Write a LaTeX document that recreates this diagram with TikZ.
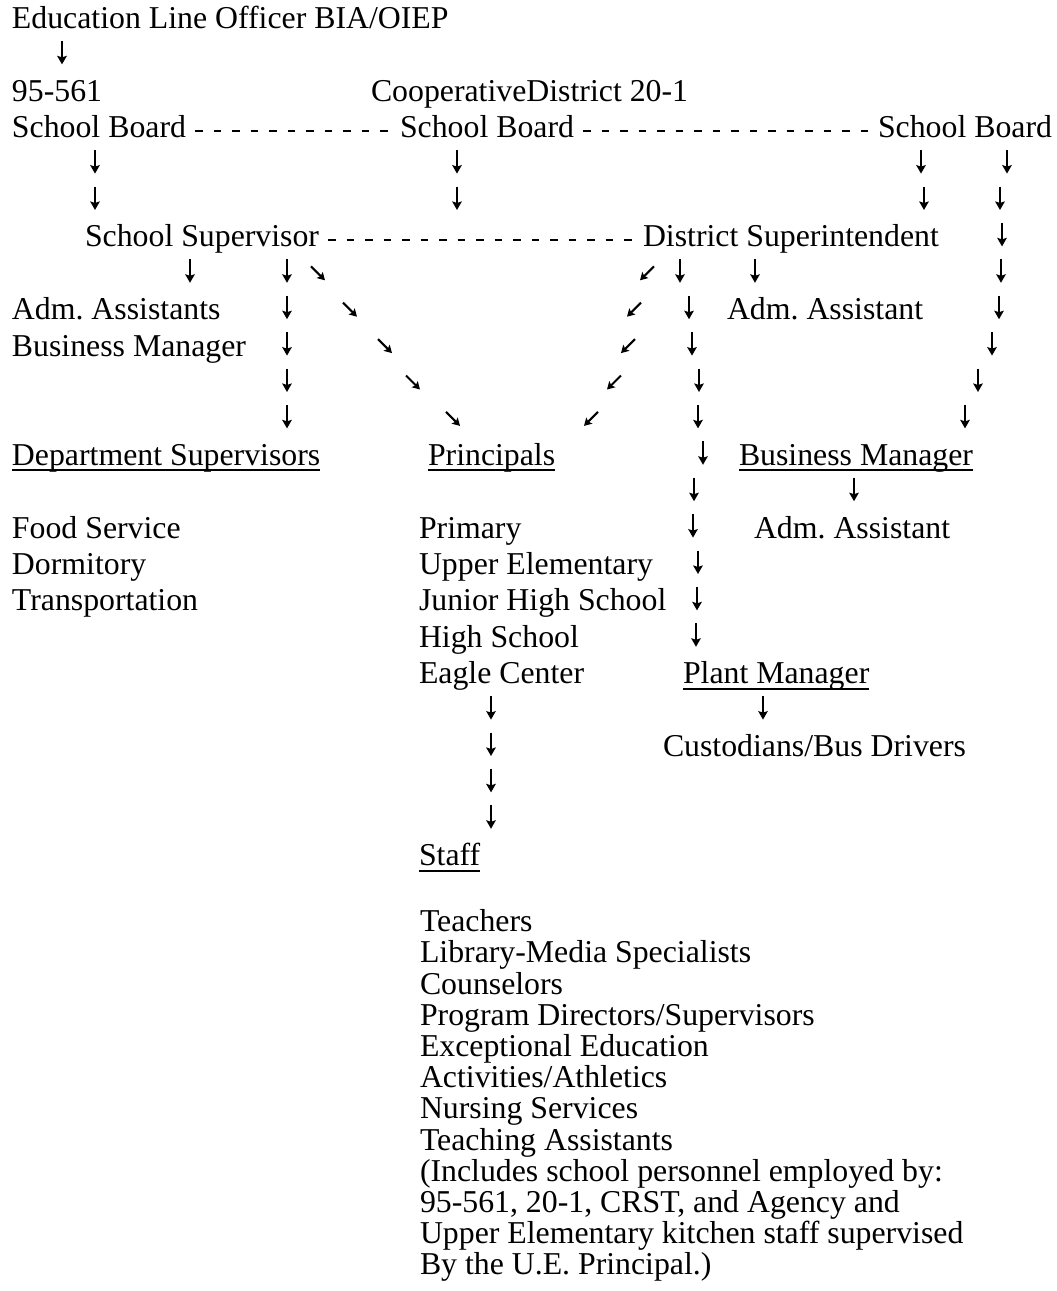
\documentclass[tikz,border=0pt]{standalone}
\usepackage{fontspec}
\setmainfont{Liberation Serif}
\usetikzlibrary{arrows.meta}
\tikzset{
  txt/.style={inner sep=0pt, outer sep=0pt, anchor=base west, font=\fontsize{31.8}{36}\selectfont\frenchspacing},
  arr/.style={line width=2.1pt, -{Stealth[length=8.5pt,width=9.5pt,inset=1.5pt]}},
  darr/.style={line width=2.1pt, -{Stealth[length=7.5pt,width=8.5pt,inset=1.5pt]}},
  dashline/.style={line width=1.9pt, dash pattern=on 7.8pt off 10.7pt},
  ul/.style={line width=1.8pt}
}
% down arrow: centre x, row
\newcommand\dA[2]{\draw[arr] (#1,{28.5+36.4*#2-24}) -- (#1,{28.5+36.4*#2-0.5});}
% down-right arrow
\newcommand\dR[2]{\draw[darr] ({#1-7},{28.5+36.4*#2-17}) -- ({#1+7},{28.5+36.4*#2-3});}
% down-left arrow
\newcommand\dL[2]{\draw[darr] ({#1+7},{28.5+36.4*#2-17}) -- ({#1-7},{28.5+36.4*#2-3});}
\newcommand\ulin[1]{\draw[ul] ([yshift=-5pt]#1.base west) -- ([yshift=-5pt]#1.base east);}
\begin{document}
\begin{tikzpicture}[x=1pt,y=-1pt]
\useasboundingbox (0,0) rectangle (1057,1291);
% ---- text ----
\node[txt] (elo) at (12,{28.5+36.4*0}) {Education Line Officer BIA/OIEP};
\node[txt] (n95) at (12,{28.5+36.4*2}) {95-561};
\node[txt] (coop) at (371,{28.5+36.4*2}) {CooperativeDistrict 20-1};
\node[txt] (sb1) at (12,{28.5+36.4*3}) {School Board};
\node[txt] (sb2) at (400,{28.5+36.4*3}) {School Board};
\node[txt] (sb3) at (878,{28.5+36.4*3}) {School Board};
\node[txt] (ssup) at (85,{28.5+36.4*6}) {School Supervisor};
\node[txt] (dsup) at (643,{28.5+36.4*6}) {District Superintendent};
\node[txt] (aas) at (12,{28.5+36.4*8}) {Adm. Assistants};
\node[txt] (aa1) at (727,{28.5+36.4*8}) {Adm. Assistant};
\node[txt] (bm1) at (12,{28.5+36.4*9}) {Business Manager};
\node[txt] (dept) at (12,{28.5+36.4*12}) {Department Supervisors};
\node[txt] (prin) at (428,{28.5+36.4*12}) {Principals};
\node[txt] (bm2) at (739,{28.5+36.4*12}) {Business Manager};
\node[txt] (food) at (12,{28.5+36.4*14}) {Food Service};
\node[txt] (prim) at (419,{28.5+36.4*14}) {Primary};
\node[txt] (aa2) at (754,{28.5+36.4*14}) {Adm. Assistant};
\node[txt] (dorm) at (12,{28.5+36.4*15}) {Dormitory};
\node[txt] (uel) at (419,{28.5+36.4*15}) {Upper Elementary};
\node[txt] (trans) at (12,{28.5+36.4*16}) {Transportation};
\node[txt] (jhs) at (419,{28.5+36.4*16}) {Junior High School};
\node[txt] (hs) at (419,{28.5+36.4*17}) {High School};
\node[txt] (eagle) at (419,{28.5+36.4*18}) {Eagle Center};
\node[txt] (plant) at (683,{28.5+36.4*18}) {Plant Manager};
\node[txt] (cust) at (663,{28.5+36.4*20}) {Custodians/Bus Drivers};
\node[txt] (staff) at (419,{28.5+36.4*23}) {Staff};
\node[txt] (st0) at (420,{931.7+31.2*0}) {Teachers};
\node[txt] (st1) at (420,{931.7+31.2*1}) {Library-Media Specialists};
\node[txt] (st2) at (420,{931.7+31.2*2}) {Counselors};
\node[txt] (st3) at (420,{931.7+31.2*3}) {Program Directors/Supervisors};
\node[txt] (st4) at (420,{931.7+31.2*4}) {Exceptional Education};
\node[txt] (st5) at (420,{931.7+31.2*5}) {Activities/Athletics};
\node[txt] (st6) at (420,{931.7+31.2*6}) {Nursing Services};
\node[txt] (st7) at (420,{931.7+31.2*7}) {Teaching Assistants};
\node[txt] (st8) at (420,{931.7+31.2*8}) {(Includes school personnel employed by:};
\node[txt] (st9) at (420,{931.7+31.2*9}) {95-561, 20-1, CRST, and Agency and};
\node[txt] (st10) at (420,{931.7+31.2*10}) {Upper Elementary kitchen staff supervised};
\node[txt] (st11) at (420,{931.7+31.2*11}) {By the U.E. Principal.)};
% ---- underlines ----
\ulin{dept}\ulin{prin}\ulin{bm2}\ulin{plant}\ulin{staff}
% ---- dashed links ----
\draw[dashline] ([xshift=9pt,yshift=7pt]sb1.base east) -- ([xshift=-8pt,yshift=7pt]sb2.base west);
\draw[dashline] ([xshift=9pt,yshift=7pt]sb2.base east) -- ([xshift=-8pt,yshift=7pt]sb3.base west);
\draw[dashline] ([xshift=9pt,yshift=7pt]ssup.base east) -- ([xshift=-8pt,yshift=7pt]dsup.base west);
% ---- arrows ----
\dA{62}{1}
\dA{95}{4}\dA{457}{4}\dA{921}{4}\dA{1007}{4}
\dA{95}{5}\dA{457}{5}\dA{924}{5}\dA{1000}{5}
\dA{1002}{6}
\dA{190}{7}\dA{287}{7}\dR{318}{7}\dL{647}{7}\dA{680}{7}\dA{755}{7}\dA{1001}{7}
\dA{287}{8}\dR{350}{8}\dL{634}{8}\dA{689}{8}\dA{999}{8}
\dA{287}{9}\dR{385}{9}\dL{628}{9}\dA{692}{9}\dA{992}{9}
\dA{287}{10}\dR{413}{10}\dL{614}{10}\dA{699}{10}\dA{978}{10}
\dA{287}{11}\dR{453}{11}\dL{591}{11}\dA{698}{11}\dA{965}{11}
\dA{703}{12}
\dA{694}{13}\dA{854}{13}
\dA{693}{14}
\dA{698}{15}
\dA{697}{16}
\dA{696}{17}
\dA{491}{19}\dA{763}{19}
\dA{491}{20}
\dA{491}{21}
\dA{491}{22}
\end{tikzpicture}
\end{document}
